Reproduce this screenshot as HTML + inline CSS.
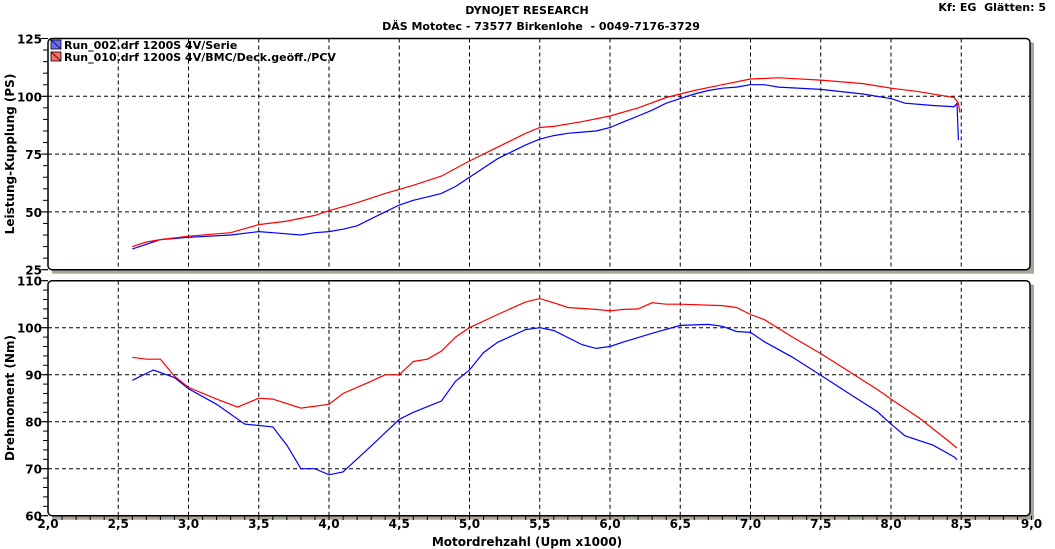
<!DOCTYPE html>
<html><head><meta charset="utf-8"><style>
html,body{margin:0;padding:0;background:#fff;}
svg{display:block;font-family:"DejaVu Sans","Liberation Sans",sans-serif;font-weight:bold;}
</style></head><body>
<svg id="s" width="1055" height="549" xmlns="http://www.w3.org/2000/svg">
<text x="527" y="14" text-anchor="middle" font-size="11">DYNOJET RESEARCH</text>
<text x="541" y="30" text-anchor="middle" font-size="11" xml:space="preserve">DÄS Mototec - 73577 Birkenlohe  - 0049-7176-3729</text>
<text x="1046" y="11" text-anchor="end" font-size="11" xml:space="preserve">Kf: EG  Glätten: 5</text>
<text x="527" y="546" text-anchor="middle" font-size="12">Motordrehzahl (Upm x1000)</text>
<text transform="translate(14,154) rotate(-90)" text-anchor="middle" font-size="12">Leistung-Kupplung (PS)</text>
<text transform="translate(14,398) rotate(-90)" text-anchor="middle" font-size="12">Drehmoment (Nm)</text>
<g id="g"></g>
</svg>
<script>
var g=document.getElementById('g'),h='';
function X(v){return 48+140.5*(v-2);}
var L=48,R=1030;
var P=[{t:38.5,b:269.7,min:25,max:125,maj:25,mn:5},{t:280.7,b:515.7,min:60,max:110,maj:10,mn:2}];
P.forEach(function(p){
 var Y=function(v){return p.b-(v-p.min)*(p.b-p.t)/(p.max-p.min);};
 p.Y=Y;
 h+='<rect x="'+(L+4)+'" y="'+(p.t+4)+'" width="'+(R-L)+'" height="'+(p.b-p.t)+'" fill="#aaa59a"/>';
 h+='<rect x="'+L+'" y="'+p.t+'" width="'+(R-L)+'" height="'+(p.b-p.t)+'" rx="4" fill="#fff" stroke="#000" stroke-width="1.5"/>';
 for(var v=2.5;v<9;v+=0.5){h+='<line x1="'+X(v)+'" x2="'+X(v)+'" y1="'+p.t+'" y2="'+p.b+'" stroke="#000" stroke-dasharray="4,3"/>';}
 for(var v=p.min;v<=p.max;v+=p.mn){var y=Y(v);h+='<line x1="'+(L-5)+'" x2="'+L+'" y1="'+y+'" y2="'+y+'" stroke="#000"/>';}
 for(var v=p.min;v<=p.max;v+=p.maj){var y=Y(v);
  if(v>p.min&&v<p.max)h+='<line x1="'+L+'" x2="'+R+'" y1="'+y+'" y2="'+y+'" stroke="#000" stroke-dasharray="4,3"/>';
  h+='<line x1="'+(L-7)+'" x2="'+L+'" y1="'+y+'" y2="'+y+'" stroke="#000"/>';
  h+='<text x="42" y="'+(y+5)+'" text-anchor="end" font-size="12">'+v+'</text>';}
});
for(var v=2;v<=9.01;v+=0.5){h+='<text x="'+X(v)+'" y="528" text-anchor="middle" font-size="12">'+v.toFixed(1).replace('.',',')+'</text>';}
for(var v=2.1;v<9;v+=0.1){h+='<line x1="'+X(v)+'" x2="'+X(v)+'" y1="515.7" y2="520" stroke="#000"/>';}
function pl(p,d,c){var s=d.map(function(a){return X(a[0]).toFixed(1)+','+p.Y(a[1]).toFixed(1);}).join(' ');
 h+='<polyline points="'+s+'" fill="none" stroke="'+c+'" stroke-width="1.2"/>';}
var pb=[[2.6,34],[2.7,36],[2.8,38],[2.9,38.5],[3,39],[3.3,40],[3.5,41.5],[3.6,41],[3.8,40],[3.9,41],[4,41.5],[4.1,42.5],[4.2,44],[4.3,47],[4.4,50],[4.5,53],[4.6,55],[4.7,56.5],[4.8,58],[4.9,61],[5,65],[5.1,69],[5.2,73],[5.3,76],[5.4,79],[5.5,81.5],[5.6,83],[5.7,84],[5.8,84.5],[5.9,85],[6,86.5],[6.1,89],[6.2,91.5],[6.3,94],[6.4,97],[6.5,99],[6.6,101],[6.7,102.5],[6.8,103.5],[6.9,104],[7,105],[7.1,105],[7.2,104],[7.5,103],[7.8,101],[8,99],[8.1,97],[8.3,96],[8.45,95.5],[8.47,97],[8.48,81]];
var pr=[[2.6,35],[2.7,37],[2.8,38],[3,39.5],[3.3,41],[3.5,44.5],[3.7,46],[3.9,48.5],[4,50.5],[4.2,54],[4.4,58],[4.6,61.5],[4.8,65.5],[5,72],[5.2,78],[5.4,84],[5.5,86.5],[5.6,87],[5.8,89],[6,91.5],[6.2,95],[6.4,99.5],[6.6,102.5],[6.8,105],[7,107.5],[7.2,108],[7.5,107],[7.8,105.5],[8,103.5],[8.2,102],[8.45,99.5],[8.48,97],[8.49,93]];
var tb=[[2.6,88.8],[2.75,91],[2.9,89.4],[3,87],[3.2,83.7],[3.4,79.5],[3.6,78.9],[3.7,75],[3.8,70],[3.9,70],[4,68.7],[4.1,69.3],[4.3,74.8],[4.5,80.5],[4.6,82],[4.8,84.4],[4.9,88.6],[5,91],[5.1,94.7],[5.2,96.9],[5.4,99.6],[5.5,100],[5.6,99.4],[5.8,96.4],[5.9,95.6],[6,96],[6.1,97],[6.2,97.9],[6.3,98.8],[6.5,100.5],[6.7,100.7],[6.8,100.3],[6.9,99.2],[7,99],[7.1,97],[7.3,93.7],[7.5,89.9],[7.7,86],[7.9,82.2],[8,79.5],[8.1,77],[8.3,75],[8.45,72.5],[8.47,71.9]];
var tr=[[2.6,93.7],[2.7,93.3],[2.8,93.3],[2.9,89.7],[3,87.3],[3.2,84.8],[3.35,83.1],[3.5,85],[3.6,84.8],[3.8,82.9],[4,83.7],[4.1,86],[4.3,88.6],[4.4,90],[4.5,90],[4.6,92.8],[4.7,93.3],[4.8,95],[4.9,98],[5,100],[5.2,102.8],[5.4,105.5],[5.5,106.2],[5.6,105.3],[5.7,104.3],[5.9,103.9],[6,103.6],[6.1,103.9],[6.2,104],[6.3,105.3],[6.4,105],[6.5,105],[6.8,104.7],[6.9,104.3],[7,102.8],[7.1,101.7],[7.3,98],[7.5,94.5],[7.7,90.7],[7.9,86.9],[8,84.8],[8.2,80.8],[8.4,76.1],[8.47,74.4]];
pl(P[0],pb,'#0000ff');pl(P[0],pr,'#ff0000');pl(P[1],tb,'#0000ff');pl(P[1],tr,'#ff0000');
h+='<rect x="51" y="40" width="10" height="9" fill="#6a6aff" stroke="#000" stroke-width="0.8"/><line x1="51" y1="40" x2="61" y2="49" stroke="#000" stroke-width="0.8"/>';
h+='<rect x="51" y="52" width="10" height="9" fill="#ff6a6a" stroke="#000" stroke-width="0.8"/><line x1="51" y1="52" x2="61" y2="61" stroke="#000" stroke-width="0.8"/>';
h+='<text x="64" y="49" font-size="11">Run_002.drf 1200S 4V/Serie</text>';
h+='<text x="64" y="61" font-size="11">Run_010.drf 1200S 4V/BMC/Deck.geöff./PCV</text>';
g.innerHTML=h;
</script>
</body></html>
